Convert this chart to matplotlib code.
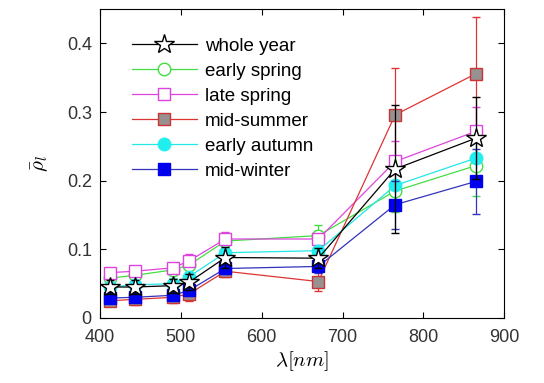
import matplotlib.pyplot as plt

plt.rcParams['font.family'] = ['Liberation Sans', 'DejaVu Sans']
plt.rcParams['mathtext.fontset'] = 'cm'

wl = [412, 443, 490, 510, 555, 670, 765, 865]

whole_year = [0.045, 0.045, 0.047, 0.052, 0.088, 0.087, 0.217, 0.262]
whole_year_err = [0.010, 0.010, 0.010, 0.012, 0.015, 0.015, 0.093, 0.060]
early_spring = [0.058, 0.062, 0.070, 0.077, 0.112, 0.120, 0.185, 0.222]
early_spring_err = [0.008, 0.008, 0.008, 0.010, 0.012, 0.015, 0.030, 0.045]
late_spring = [0.066, 0.068, 0.073, 0.083, 0.115, 0.115, 0.228, 0.272]
late_spring_err = [0.006, 0.006, 0.007, 0.010, 0.010, 0.012, 0.030, 0.035]
mid_summer = [0.025, 0.027, 0.030, 0.035, 0.068, 0.053, 0.296, 0.356]
mid_summer_err = [0.008, 0.008, 0.008, 0.010, 0.008, 0.014, 0.068, 0.082]
early_autumn = [0.045, 0.048, 0.050, 0.060, 0.095, 0.098, 0.193, 0.233]
early_autumn_err = [0.008, 0.008, 0.008, 0.010, 0.010, 0.012, 0.030, 0.040]
mid_winter = [0.029, 0.030, 0.033, 0.040, 0.072, 0.075, 0.165, 0.199]
mid_winter_err = [0.006, 0.006, 0.007, 0.008, 0.008, 0.010, 0.035, 0.047]

series = [
    ('whole year', whole_year, whole_year_err, 'k', '*', 'white', 'k', 15, 6),
    ('early spring', early_spring, early_spring_err, '#44dd44', 'o', 'white', '#44dd44', 9, 3),
    ('late spring', late_spring, late_spring_err, '#dd44dd', 's', 'white', '#dd44dd', 8, 3),
    ('mid-summer', mid_summer, mid_summer_err, '#dd3333', 's', '#999090', '#cc3333', 8, 3),
    ('early autumn', early_autumn, early_autumn_err, '#22e8e8', 'o', '#22eeee', '#22eeee', 9, 3),
    ('mid-winter', mid_winter, mid_winter_err, '#3333bb', 's', '#0000ee', '#0000ee', 8, 4),
]

fig, ax = plt.subplots(figsize=(5.44, 3.83), dpi=100)
fig.subplots_adjust(left=0.184, right=0.927, top=0.976, bottom=0.17)

handles = []
for name, y, e, c, m, fc, ec, ms, z in series:
    eb = ax.errorbar(wl, y, yerr=e, color=c, marker=m, mfc=fc, mec=ec, ms=ms,
                     lw=0.9, elinewidth=0.9, capsize=3, label=name, zorder=z)
    handles.append(eb[0])

ax.set_xlim(400, 900)
ax.set_ylim(0, 0.45)
ax.set_xticks([400, 500, 600, 700, 800, 900])
ax.set_yticks([0, 0.1, 0.2, 0.3, 0.4])
ax.set_yticklabels(['0', '0.1', '0.2', '0.3', '0.4'])
ax.tick_params(direction='in', top=True, right=True, labelsize=13, length=4,
               labelcolor='#333333')
ax.tick_params(axis='x', pad=8)
ax.tick_params(axis='y', pad=6)
ax.set_xlabel(r'$\lambda[nm]$', fontsize=15, labelpad=2)
ax.set_ylabel(r'$\bar{\rho}_l$', fontsize=15, labelpad=12)

ax.legend(handles, [s[0] for s in series], loc='upper left',
          bbox_to_anchor=(0.05, 0.945), frameon=False,
          fontsize=13.5, handlelength=3.5, labelspacing=0.42, borderaxespad=0.2,
          handletextpad=0.4)

fig.savefig('out.png')
